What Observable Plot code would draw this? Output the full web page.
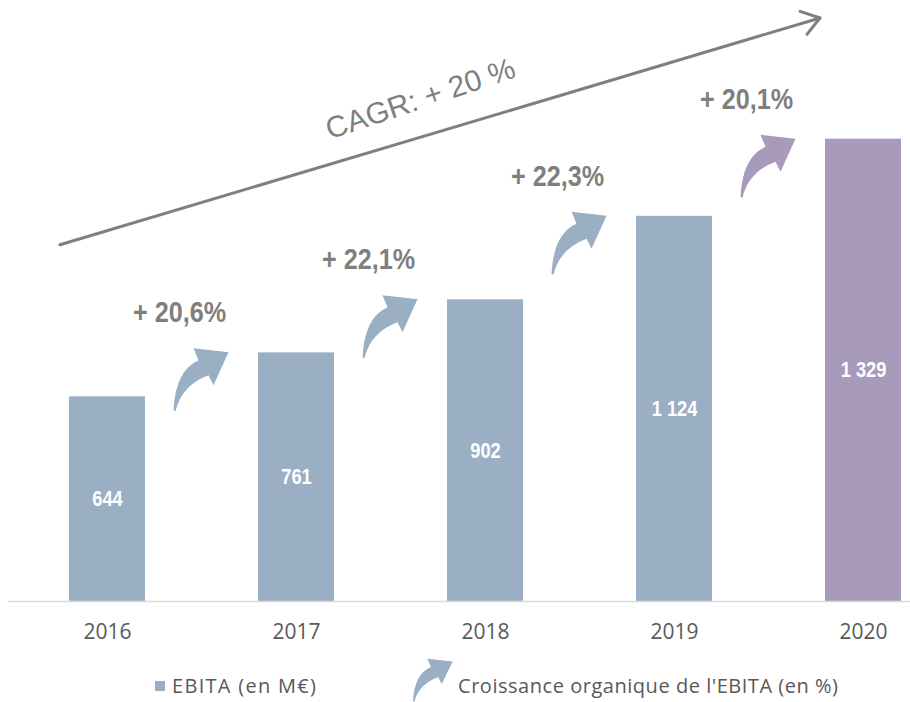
<!DOCTYPE html>
<html><head><meta charset="utf-8">
<script src="https://cdn.jsdelivr.net/npm/d3@7"></script>
<script src="https://cdn.jsdelivr.net/npm/@observablehq/plot@0.6"></script>
<style>
body{margin:0;background:#fff;width:910px;height:702px;overflow:hidden}
#chart svg{display:block}
</style>
</head><body><div id="chart"></div>
<script>
// ---- data ----
const years = ["2016", "2017", "2018", "2019", "2020"];
const ebita = [644, 761, 902, 1124, 1329];
const growthLabels = ["+ 20,6%", "+ 22,1%", "+ 22,3%", "+ 20,1%"];
const cagrLabel = "CAGR: + 20 %";
const legendLabels = ["EBITA (en M€)", "Croissance organique de l'EBITA (en %)"];
const yMin = 100, yMax = 1400;

const BLUE = "#9aafc3", PURPLE = "#a79abb", GREY = "#7f7f7f";
const NARROW = "'Liberation Sans Narrow', 'Arial Narrow', 'Liberation Sans', sans-serif";
const fmt = v => v >= 1000 ? `${Math.floor(v / 1000)} ${String(v % 1000).padStart(3, "0")}` : String(v);

const bars = years.map((y, i) => ({year: y, value: ebita[i], last: i === years.length - 1}));
const growth = growthLabels.map((g, i) => ({from: years[i], to: years[i + 1], label: g, next: ebita[i + 1], last: i === growthLabels.length - 1}));

const chart = Plot.plot({
  width: 910, height: 655,
  marginLeft: 8, marginRight: 0, marginTop: 0, marginBottom: 54,
  x: {type: "band", domain: years, range: [67, 903], paddingInner: 0.6, paddingOuter: 0, label: null},
  y: {domain: [yMin, yMax], range: [601, 112], axis: null},
  style: {background: "white", overflow: "visible"},
  marks: [
    Plot.barY(bars, {filter: d => !d.last, x: "year", y1: yMin, y2: "value", fill: BLUE}),
    Plot.barY(bars, {filter: d => d.last, x: "year", y1: yMin, y2: "value", fill: PURPLE}),
    Plot.ruleY([yMin], {stroke: "#d9d9d9", strokeWidth: 1.5}),
    Plot.text(bars, {x: "year", y: d => (yMin + d.value) / 2, text: d => fmt(d.value), fill: "white",
      fontWeight: "bold", fontSize: 22, fontFamily: NARROW}),
    Plot.text(growth, {x: "from", y: "next", dx: 72, dy: -40, text: "label", fill: GREY,
      fontWeight: "bold", fontSize: 30, fontFamily: NARROW}),
    Plot.axisX({tickSize: 0, tickPadding: 23, fontSize: 21, color: "#595959", fontFamily: "'Open Sans', sans-serif", label: null})
  ]
});
document.getElementById("chart").appendChild(chart);

// condense the bold labels (narrow font look)
d3.select(chart).selectAll('g[aria-label="text"]').each(function () {
  const fs = +this.getAttribute("font-size");
  const ratio = fs >= 26 ? 0.84 : 0.83;
  d3.select(this).selectAll("text").each(function () {
    const w = this.getComputedTextLength();
    this.setAttribute("textLength", w * ratio);
    this.setAttribute("lengthAdjust", "spacingAndGlyphs");
  });
});

// ---- curved growth arrows, positioned via the plot's own scales ----
const sx = chart.scale("x"), sy = chart.scale("y");
const bw = sx.bandwidth;
const arrowPath = "M0,0 Q2,-40 25,-50 L20,-62 L55,-58 L40,-25 L35,-35 Q8,-25 2,1 Z";
const svg = d3.select(chart);
const gA = svg.append("g").attr("aria-label", "growth arrows");
growth.forEach(d => {
  const mid = (sx.apply(d.from) + sx.apply(d.to) + bw) / 2;
  const tx = mid - 28, ty = sy.apply(d.next) + 58;
  gA.append("path").attr("d", arrowPath).attr("fill", d.last ? PURPLE : BLUE)
    .attr("transform", `translate(${tx},${ty})`);
});

// ---- CAGR trend arrow ----
const x1 = sx.apply(years[0]) - 9, y1 = sy.apply(1047);
const x2 = sx.apply(years[years.length - 1]) - 5, y2 = sy.apply(1650);
const gC = svg.append("g").attr("aria-label", "cagr arrow").attr("stroke", GREY).attr("stroke-width", 3).attr("fill", "none").attr("stroke-linecap", "round").attr("stroke-linejoin", "round");
gC.append("line").attr("x1", x1).attr("y1", y1).attr("x2", x2).attr("y2", y2);
const ang = Math.atan2(y1 - y2, x1 - x2), wl = 21, wa = 35 * Math.PI / 180;
gC.append("polyline").attr("points", [
  [x2 + wl * Math.cos(ang - wa), y2 + wl * Math.sin(ang - wa)],
  [x2, y2],
  [x2 + wl * Math.cos(ang + wa), y2 + wl * Math.sin(ang + wa)]
].map(p => p.join(",")).join(" "));
const t = 0.474, cx = x1 + (x2 - x1) * t, cy = y1 + (y2 - y1) * t - 39;
svg.append("text").attr("x", cx).attr("y", cy).attr("text-anchor", "middle").attr("dominant-baseline", "central")
  .attr("transform", `rotate(-18.5,${cx},${cy})`).attr("fill", GREY)
  .attr("font-family", "'Liberation Sans', Arial, sans-serif").attr("font-size", 30).text(cagrLabel);

// ---- legend (below the plot) ----
const leg = d3.select("body").append("svg").attr("width", 910).attr("height", 47).style("display", "block");
leg.append("rect").attr("x", 155).attr("y", 26).attr("width", 10).attr("height", 10).attr("fill", BLUE);
leg.append("text").attr("x", 172).attr("y", 38).attr("fill", "#595959").attr("font-family", "'Open Sans', sans-serif")
  .attr("font-size", 20).attr("textLength", 144).attr("lengthAdjust", "spacing").text(legendLabels[0]);
leg.append("path").attr("d", arrowPath).attr("fill", BLUE).attr("transform", "translate(413,46) scale(0.72,0.68)");
leg.append("text").attr("x", 458).attr("y", 38).attr("fill", "#595959").attr("font-family", "'Open Sans', sans-serif")
  .attr("font-size", 20).attr("textLength", 380).attr("lengthAdjust", "spacing").text(legendLabels[1]);
</script>
</body></html>
